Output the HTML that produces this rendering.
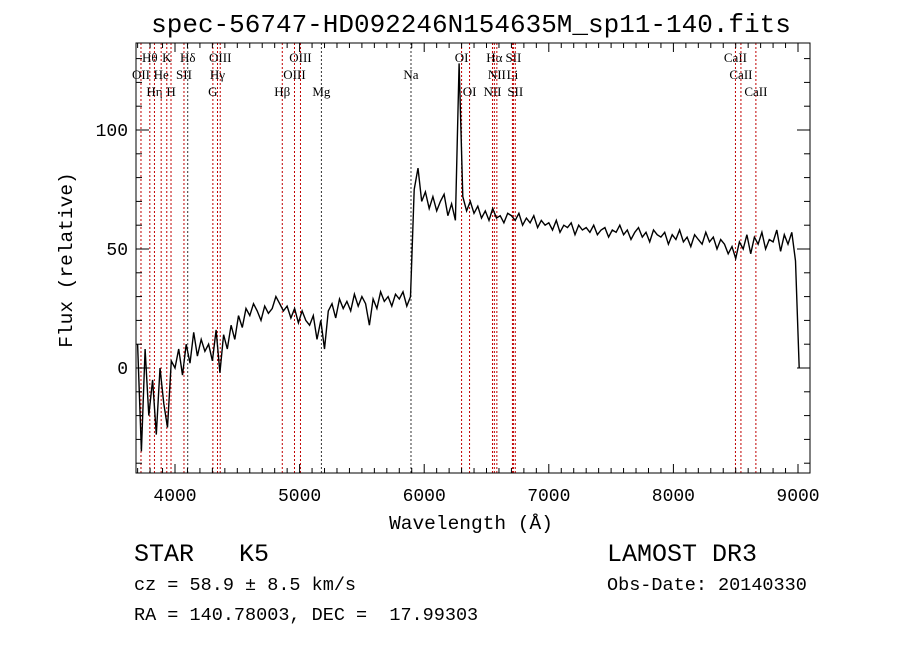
<!DOCTYPE html>
<html><head><meta charset="utf-8"><style>
body{margin:0;background:#fff;width:900px;height:649px;overflow:hidden}
svg text{font-family:"Liberation Mono",monospace;fill:#000;white-space:pre}
.lbl{font-family:"Liberation Serif",serif;font-size:13px}
</style></head><body>
<svg id="chart" width="900" height="649" xml:space="preserve">
<text x="471" y="32" font-size="26" text-anchor="middle">spec-56747-HD092246N154635M_sp11-140.fits</text>
<g id="lines"></g>
<g id="spec"></g>
<rect x="136" y="43" width="674" height="430" fill="none" stroke="#000" stroke-width="1"/>
<g id="axes"></g>
<text x="471" y="529" font-size="19.5" text-anchor="middle">Wavelength (Å)</text>
<text transform="translate(72,260) rotate(-90)" font-size="19.5" text-anchor="middle">Flux (relative)</text>
<text x="134" y="561" font-size="25">STAR   K5</text>
<text x="607" y="561" font-size="25">LAMOST DR3</text>
<text x="134" y="590" font-size="18.5">cz = 58.9 ± 8.5 km/s</text>
<text x="607" y="590" font-size="18.5">Obs-Date: 20140330</text>
<text x="134" y="620" font-size="18.5">RA = 140.78003, DEC =  17.99303</text>
</svg>
<script>
const startWave = 3700;
const stepWave = 30;
const flux = [10,-35,8,-20,-5,-28,0,-15,-25,3,
0,8,-3,10,2,15,5,12,7,10,
3,16,-2,14,8,18,12,22,17,25,
22,27,24,20,26,23,25,30,27,24,
26,21,25,19,24,20,18,22,12,20,
8,24,27,21,29,25,28,24,31,26,
30,27,18,29,25,32,28,30,26,31,
29,32,26,30,75,84,70,74,67,72,
66,70,73,64,69,62,128,72,66,70,
65,68,63,66,62,67,63,64,61,65,
64,62,65,60,63,61,64,59,62,60,
61,58,62,57,60,59,61,56,60,58,
59,57,60,56,58,59,55,58,57,60,
56,58,54,57,59,55,57,53,58,56,
55,57,52,56,54,58,53,55,51,56,
54,52,57,53,55,50,54,52,48,51,
46,53,50,56,48,55,52,57,50,54,
53,58,49,56,52,57,45,0];
const lineNames = ["OII","Hθ","Hη","He","K","H","SII","Hδ","G","Hγ","OIII","Hβ","OIII","OIII","Mg","Na","OI","OI","NII","Hα","NII","Li","SII","SII","CaII","CaII","CaII"];
const lineWaves = [3727,3798,3835,3889,3934,3968,4072,4102,4304,4341,4363,4861,4959,5007,5175,5894,6300,6364,6548,6563,6583,6708,6716,6731,8498,8542,8662];
const lineRows = [1,0,2,1,0,2,1,0,2,1,0,2,1,0,2,1,0,2,2,0,1,1,0,2,0,1,2];
const xTicks = [4000,5000,6000,7000,8000,9000];
const yTicks = [0,50,100];
const X0=136,X1=810,Y0=43,Y1=473;
const xs = w => 175 + (w-4000)*0.1246;
const ys = f => 368 - f*2.38;
const NS="http://www.w3.org/2000/svg";
function mk(tag,attrs,parent){const e=document.createElementNS(NS,tag);for(const k in attrs)e.setAttribute(k,attrs[k]);parent.appendChild(e);return e;}
const gl=document.getElementById('lines');
lineWaves.forEach((w,i)=>{
  const x=xs(w);
  const black=(lineNames[i]==="Na"||lineNames[i]==="Mg"||lineNames[i]==="Hδ");
  const l=mk('line',{x1:x,x2:x,y1:Y0,y2:Y1,stroke:black?'#333':'#c00000','stroke-width':1,'stroke-dasharray':'2,2'},gl);
  
  
  const t=mk('text',{x:x,y:62+lineRows[i]*17,'text-anchor':'middle',class:'lbl'},gl);
  t.textContent=lineNames[i];
  
  
});
const gs=document.getElementById('spec');
const pts=flux.map((f,i)=>{const y=Math.max(Y0,Math.min(Y1,ys(f)));return xs(startWave+i*stepWave).toFixed(1)+','+y.toFixed(1);}).join(' ');
const pl=mk('polyline',{points:pts,fill:'none',stroke:'#000','stroke-width':1.4},gs);


const ga=document.getElementById('axes');
for(let w=3700;w<=9090;w+=100){
  const x=xs(w);const maj=w%1000===0;const L=maj?9:5;
  mk('line',{x1:x,x2:x,y1:Y1,y2:Y1-L,stroke:'#000'},ga);
  mk('line',{x1:x,x2:x,y1:Y0,y2:Y0+L,stroke:'#000'},ga);
}
xTicks.forEach(w=>{const t=mk('text',{x:xs(w),y:501,'font-size':18,'text-anchor':'middle'},ga);t.textContent=w;

});
for(let f=-40;f<=130;f+=10){
  const y=ys(f);const maj=f%50===0;const L=maj?13:6;
  mk('line',{x1:X0,x2:X0+L,y1:y,y2:y,stroke:'#000'},ga);
  mk('line',{x1:X1,x2:X1-L,y1:y,y2:y,stroke:'#000'},ga);
}
yTicks.forEach(f=>{const t=mk('text',{x:128,y:ys(f)+6,'font-size':18,'text-anchor':'end'},ga);t.textContent=f;

});
</script>
</body></html>
